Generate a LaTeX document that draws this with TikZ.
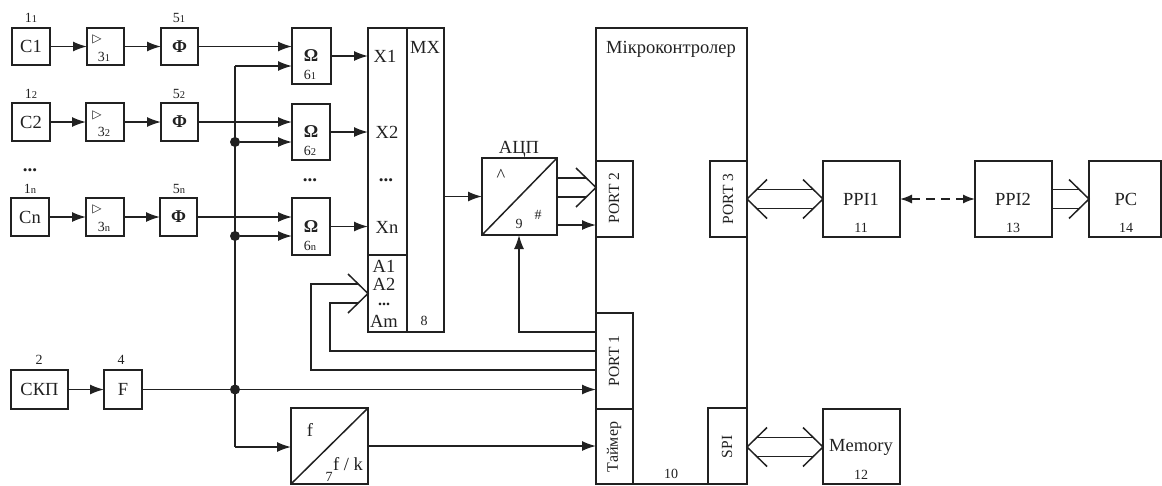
\documentclass[tikz,border=0pt]{standalone}
\usepackage{fontspec}
\setmainfont{Liberation Serif}
\newfontfamily\symfont{DejaVu Sans}
\usetikzlibrary{arrows.meta}
\definecolor{ink}{gray}{0.13}
\newcommand{\fs}[1]{\fontsize{#1}{#1}\selectfont}
\newcommand{\sbb}[1]{{\fs{10.5}\raisebox{-0.5pt}{#1}}}
\tikzset{
  box/.style={draw=ink,line width=1.5pt,inner sep=0pt,outer sep=0pt,rectangle},
  txt/.style={text=ink,inner sep=0pt,font=\fs{18.5}},
  lab/.style={text=ink,inner sep=0pt,font=\fs{14}},
  dots/.style={text=ink,inner sep=0pt,font=\fs{19}\bfseries},
  wire/.style={draw=ink,line width=1.5pt},
  arr/.style={wire,-{Latex[length=14pt,width=10pt]}},
  darr/.style={wire,dashed,dash pattern=on 9pt off 6pt,{Latex[length=12pt,width=9pt]}-{Latex[length=12pt,width=9pt]}},
  dot/.style={circle,fill=ink,inner sep=0pt,minimum size=10pt}
}
% \bx{name}{x1}{y1}{x2}{y2}{text}
\newcommand{\bx}[6]{\node[box,minimum width={(#4-#2)*1pt},minimum height={(#5-#3)*1pt},txt] (#1) at ({(#2+#4)/2},{(#3+#5)/2}) {#6};}
% \tx{name}{x}{y}{text}
\newcommand{\tx}[4]{\node[txt] (#1) at (#2,#3) {#4};}
\newcommand{\lb}[4]{\node[lab] (#1) at (#2,#3) {#4};}
\newcommand{\ds}[3]{\node[dots] (#1) at (#2,#3) {...};}
\newcommand{\amp}[3]{\node[text=ink,inner sep=0pt,font=\symfont\fs{12}] (#1) at (#2,#3) {▷};}
\newcommand{\vt}[5]{\node[text=ink,inner sep=0pt,rotate=90,font=\fs{#5}] (#1) at (#2,#3) {#4};}
\newcommand{\headR}[1]{\draw[wire] (#1) ++(-20,-19.5) -- (#1) -- ++(-20,19.5);}
\newcommand{\headL}[1]{\draw[wire] (#1) ++(20,-19.5) -- (#1) -- ++(20,19.5);}
\begin{document}
\begin{tikzpicture}[x=1pt,y=-1pt]
\useasboundingbox (0,0) rectangle (1162,485);
% row boxes
\bx{c1}{12}{28}{50}{65}{C1}
\bx{a1}{87}{28}{124}{65}{}
\bx{p1}{161}{28}{198}{65}{\fs{18}\bfseries Φ}
\bx{o1}{292}{28}{331}{84}{}
\bx{c2}{12}{103}{50}{141}{C2}
\bx{a2}{86}{103}{124}{141}{}
\bx{p2}{161}{103}{198}{141}{\fs{18}\bfseries Φ}
\bx{o2}{292}{104}{330}{160}{}
\bx{cn}{11}{198}{49}{236}{Cn}
\bx{an}{86}{198}{124}{236}{}
\bx{pn}{160}{198}{197}{236}{\fs{18}\bfseries Φ}
\bx{on}{292}{198}{330}{255}{}
% amp marks
\amp{t1}{97}{39}\amp{t2}{97}{115}\amp{tn}{97}{209}
\lb{n31}{104}{57}{3\sbb{1}}
\lb{n32}{104}{132}{3\sbb{2}}
\lb{n3n}{104}{227}{3\sbb{n}}
% omega
\tx{w1}{311}{56}{\fs{18}\bfseries Ω}\lb{n61}{310}{75}{6\sbb{1}}
\tx{w2}{311}{132}{\fs{18}\bfseries Ω}\lb{n62}{310}{151}{6\sbb{2}}
\tx{wn}{311}{227}{\fs{18}\bfseries Ω}\lb{n6n}{310}{246}{6\sbb{n}}
% top labels
\lb{n11}{31}{18}{1\sbb{1}}\lb{n51}{179}{18}{5\sbb{1}}
\lb{n12}{31}{94}{1\sbb{2}}\lb{n52}{179}{94}{5\sbb{2}}
\lb{n1n}{30}{189}{1\sbb{n}}\lb{n5n}{179}{189}{5\sbb{n}}
\ds{d1}{30}{170}
\ds{d2}{310}{180}
% lower left
\bx{skp}{11}{370}{68}{409}{СКП}
\bx{ff}{104}{370}{142}{409}{F}
\lb{n2}{39}{360}{2}\lb{n4}{121}{360}{4}
\bx{fk}{291}{408}{368}{484}{}
\tx{tf}{310}{430}{f}\tx{tfk}{348}{464}{f / k}\lb{n7}{329}{477}{7}
\draw[wire] (fk.south west) -- (fk.north east);
% MX
\bx{mxl}{368}{28}{407}{255}{}
\bx{mxa}{368}{255}{407}{332}{}
\bx{mxr}{407}{28}{444}{332}{}
\tx{x1}{385}{56}{X1}\tx{x2}{387}{132}{X2}\ds{x3}{386}{180}\tx{xn}{387}{227}{Xn}
\tx{mxt}{425}{47}{MX}\lb{n8}{424}{321}{8}
\tx{am1}{384}{266}{A1}\tx{am2}{384}{284.5}{A2}\node[dots,font=\fs{16}\bfseries] (am3) at (384,304) {...};\tx{amm}{384}{321}{Am}
% ADC
\bx{adc}{482}{158}{557}{235}{}
\draw[wire] (adc.south west) -- (adc.north east);
\tx{adct}{519}{149}{АЦП}\node[txt] (hat) at (501,175) {\^{}};\lb{hsh}{538}{215}{\#}\lb{n9}{519}{224}{9}
% microcontroller
\bx{mc}{596}{28}{747}{484}{}
\tx{mct}{671}{49}{Мікроконтролер}
\lb{n10}{671}{474}{10}
\bx{pt2}{596}{161}{633}{237}{}\vt{lp2}{614}{198}{PORT 2}{15.5}
\bx{pt1}{596}{313}{633}{409}{}\vt{lp1}{614}{361}{PORT 1}{15.5}
\bx{tmr}{596}{409}{633}{484}{}\vt{ltm}{614}{447}{Таймер}{16}
\bx{pt3}{710}{161}{747}{237}{}\vt{lp3}{728}{199}{PORT 3}{15.5}
\bx{spi}{708}{408}{747}{484}{}\vt{lsp}{727}{447}{SPI}{15.5}
% right
\bx{ppi1}{823}{161}{900}{237}{}\tx{lpi1}{861}{199}{PPI1}\lb{n11b}{861}{228}{11}
\bx{ppi2}{975}{161}{1052}{237}{}\tx{lpi2}{1013}{199}{PPI2}\lb{n13}{1013}{228}{13}
\bx{pc}{1089}{161}{1161}{237}{}\tx{lpc}{1126}{199}{PC}\lb{n14}{1126}{228}{14}
\bx{mem}{823}{409}{900}{484}{}\tx{lmem}{861}{447}{Memory}\lb{n12}{861}{475}{12}
% rows
\draw[arr] (c1) -- (a1);\draw[arr] (a1) -- (p1);
\draw[arr] (c2) -- (a2);\draw[arr] (a2) -- (p2);
\draw[arr] (cn) -- (an);\draw[arr] (an) -- (pn);
\draw[arr] (p1.east) -- (p1.east -| o1.west);
\draw[arr] (p2.east) -- (p2.east -| o2.west);
\draw[arr] (pn.east) -- (pn.east -| on.west);
\draw[arr] (o1.east) -- (o1.east -| mxl.west);
\draw[arr] (o2.east) -- (o2.east -| mxl.west);
\draw[arr] (on.east) -- (on.east -| mxl.west);
% clock bus
\draw[arr] (skp) -- (ff);
\node[dot] (j0) at (235,389.5) {};
\node[dot] (j2) at (235,142) {};
\node[dot] (jn) at (235,236) {};
\coordinate (top) at (235,66);
\coordinate (bot) at (235,447);
\draw[arr] (bot) -- (bot -| fk.west);
\draw[wire] (top) -- (bot);
\draw[arr] (top) -- (top -| o1.west);
\draw[arr] (j2) -- (j2 -| o2.west);
\draw[arr] (jn) -- (jn -| on.west);
\draw[wire] (ff) -- (j0);
\draw[arr] (j0) -- (j0 -| pt1.west);
\draw[arr] (fk.east) -- (fk.east -| tmr.west);
% MX to ADC
\draw[arr] (mxr.east |- adc.west) -- (adc.west);
% ADC to port 2
\coordinate (ah2) at (596,187.5);
\draw[wire] (adc.east |- 0,178) -- (586,178);
\draw[wire] (adc.east |- 0,197) -- (586,197);
\headR{ah2}
\draw[arr] (adc.east |- 0,225) -- (pt2.west |- 0,225);
% port 1 feedback
\coordinate (fb1) at (519,332);
\draw[arr] (pt1.west |- fb1) -- (fb1) -- (fb1 |- adc.south);
\coordinate (ma) at (368,293.5);
\coordinate (l1) at (330,351);
\coordinate (l2) at (311,370);
\draw[wire] (pt1.west |- l1) -- (l1) -- (330,303) -- (358,303);
\draw[wire] (pt1.west |- l2) -- (l2) -- (311,284) -- (358,284);
\headR{ma}
% buses right
\coordinate (b3l) at (747,199);
\coordinate (b3r) at (823,199);
\draw[wire] (757,189.5) -- (813,189.5);
\draw[wire] (757,208.5) -- (813,208.5);
\headL{b3l}\headR{b3r}
\draw[darr] (ppi1.east) -- (ppi2.west);
\coordinate (bpc) at (1089,199);
\draw[wire] (1052,189.5) -- (1079,189.5);
\draw[wire] (1052,208.5) -- (1079,208.5);
\headR{bpc}
\coordinate (bml) at (747,447);
\coordinate (bmr) at (823,447);
\draw[wire] (757,437.5) -- (813,437.5);
\draw[wire] (757,456.5) -- (813,456.5);
\headL{bml}\headR{bmr}
\end{tikzpicture}
\end{document}
